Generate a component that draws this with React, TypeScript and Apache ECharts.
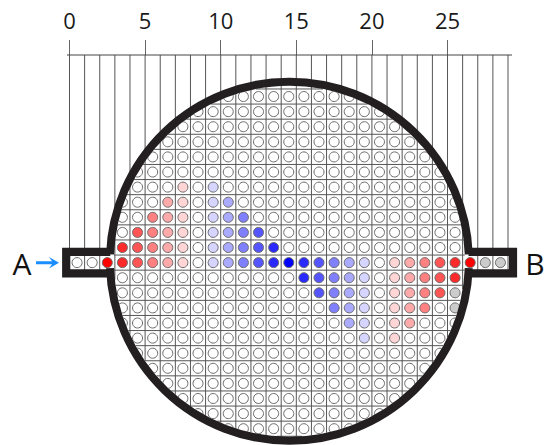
import React, { useEffect, useRef } from "react";
import * as echarts from "echarts";

// Tick labels along the top
const tickValues = [0, 5, 10, 15, 20, 25];

// Structure of the lattice
const columnIndices = [0, 1, 2, 3, 4, 5, 6, 7, 8, 9, 10, 11, 12, 13, 14, 15, 16, 17, 18, 19, 20, 21, 22, 23, 24, 25, 26, 27, 28];
const rowIndices = [-11, -10, -9, -8, -7, -6, -5, -4, -3, -2, -1, 0, 1, 2, 3, 4, 5, 6, 7, 8, 9, 10, 11];
const columnEdges = [...columnIndices, 29];
const rowEdges = [-11.5, -10.5, -9.5, -8.5, -7.5, -6.5, -5.5, -4.5, -3.5, -2.5, -1.5, -0.5, 0.5, 1.5, 2.5, 3.5, 4.5, 5.5, 6.5, 7.5, 8.5, 9.5, 10.5, 11.5];

// Cell levels as [column, level]; 9 means a grey (no-data) cell, others default to 0
const rowM5 = [[7, 1], [9, -1]];
const rowM4 = [[6, 2], [7, 1], [9, -1], [10, -2]];
const rowM3 = [[5, 3], [6, 2], [7, 1], [9, -1], [10, -2], [11, -3]];
const rowM2 = [[4, 4], [5, 3], [6, 2], [7, 1], [9, -1], [10, -2], [11, -3], [12, -4]];
const rowM1 = [[3, 5], [4, 4], [5, 3], [6, 2], [7, 1], [9, -1], [10, -2], [11, -3], [12, -4], [13, -5]];
const row0 = [[2, 6], [3, 5], [4, 4], [5, 3], [6, 2], [7, 1], [9, -1], [10, -2], [11, -3], [12, -4], [13, -5], [14, -6], [15, -5], [16, -4], [17, -3], [18, -2], [19, -1], [21, 1], [22, 2], [23, 3], [24, 4], [25, 5], [26, 6], [27, 9], [28, 9]];
const rowP1 = [[15, -5], [16, -4], [17, -3], [18, -2], [19, -1], [21, 1], [22, 2], [23, 3], [24, 4], [25, 5]];
const rowP2 = [[16, -4], [17, -3], [18, -2], [19, -1], [21, 1], [22, 2], [23, 3], [24, 4], [25, 9]];
const rowP3 = [[17, -3], [18, -2], [19, -1], [21, 1], [22, 2], [23, 3], [25, 9]];
const rowP4 = [[18, -2], [19, -1], [21, 1], [22, 2]];
const rowP5 = [[19, -1], [21, 1]];
const levelRows: [number, number[][]][] = [
  [-5, rowM5], [-4, rowM4], [-3, rowM3], [-2, rowM2], [-1, rowM1], [0, row0],
  [1, rowP1], [2, rowP2], [3, rowP3], [4, rowP4], [5, rowP5],
];

const levelColors: Record<string, string> = {
  "-6": "#0000ff", "-5": "#2a2aff", "-4": "#5555ff", "-3": "#8080ff", "-2": "#aaaaff", "-1": "#d5d5ff",
  "0": "#ffffff",
  "1": "#ffd5d5", "2": "#ffaaaa", "3": "#ff8080", "4": "#ff5555", "5": "#ff2a2a", "6": "#ff0000",
  "9": "#cccccc",
};

// Vessel geometry, in pixels
const CX = 289.4;
const CY = 261.2;
const RING_R = 179.5;
const RING_W = 8;
const INNER_R = RING_R - RING_W / 2;
const WALL = "#231f20";

function levelOf(col: number, row: number): number {
  const found = levelRows.find((r) => r[0] === row);
  if (!found) return 0;
  const cell = found[1].find((c) => c[0] === col);
  return cell ? cell[1] : 0;
}

const cellData: number[][] = [];
rowIndices.forEach((row) => {
  columnIndices.forEach((col) => {
    cellData.push([col + 0.5, row, levelOf(col, row)]);
  });
});

export default function App() {
  const ref = useRef<HTMLDivElement>(null);
  useEffect(() => {
    document.body.style.margin = "0";
    const chart = echarts.init(ref.current!, undefined, { renderer: "svg" });
    const gapA = Math.asin(6.9 / RING_R);
    const tubeTop = 251.85;
    const tubeBottom = 273.3;
    const joinDx = Math.sqrt(RING_R * RING_R - 144);
    chart.setOption({
      animation: false,
      backgroundColor: "#ffffff",
      grid: { left: 69.5, top: 55, width: 438.5, height: 388.8 },
      xAxis: {
        type: "value",
        position: "top",
        min: 0,
        max: 29,
        splitLine: { show: false },
        axisLine: { show: false, onZero: false, lineStyle: { color: "#444444", width: 1 } },
        axisTick: { show: true, inside: false, length: 15, customValues: tickValues, lineStyle: { color: "#666666", width: 1 } },
        axisLabel: {
          show: true,
          customValues: tickValues,
          margin: 24,
          fontSize: 22,
          fontFamily: "Open Sans",
          color: "#1a1a1a",
        },
      },
      yAxis: { type: "value", inverse: true, min: -13.75, max: 12, show: false },
      series: [
        {
          type: "custom",
          name: "rows",
          coordinateSystem: "cartesian2d",
          clip: false,
          z: 2,
          data: rowEdges.map((e) => [0, e]),
          renderItem: (_p: any, api: any) => {
            const y = api.coord([0, api.value(1)])[1];
            const dy = y - CY;
            if (Math.abs(dy) >= INNER_R) return null;
            const dx = Math.sqrt(INNER_R * INNER_R - dy * dy);
            return {
              type: "line",
              shape: { x1: CX - dx, y1: y, x2: CX + dx, y2: y },
              style: { stroke: "#555555", lineWidth: 1 },
            };
          },
        },
        {
          type: "custom",
          name: "columns",
          coordinateSystem: "cartesian2d",
          clip: false,
          z: 2,
          data: columnEdges.map((e) => [e, 0]),
          renderItem: (_p: any, api: any) => {
            const x = api.coord([api.value(0), 0])[0];
            const dx = x - CX;
            const end = Math.abs(dx) < INNER_R ? CY + Math.sqrt(INNER_R * INNER_R - dx * dx) : tubeBottom;
            return {
              type: "line",
              shape: { x1: x, y1: 55, x2: x, y2: end },
              style: { stroke: "#555555", lineWidth: 1 },
            };
          },
        },
        {
          type: "custom",
          name: "cells",
          coordinateSystem: "cartesian2d",
          clip: false,
          z: 3,
          data: cellData,
          renderItem: (_p: any, api: any) => {
            const [x, y] = api.coord([api.value(0), api.value(1)]);
            const row = api.value(1);
            const level = api.value(2);
            const dist = Math.hypot(x - CX, y - CY);
            const inTube = row === 0;
            if (!inTube && dist - 6 > INNER_R) return null;
            const el: any = {
              type: "circle",
              shape: { cx: x, cy: y, r: 5 },
              style: { fill: levelColors[String(level)], stroke: "#6a6a6a", lineWidth: 1 },
            };
            if (!inTube && dist + 6 > INNER_R) {
              el.clipPath = { type: "circle", shape: { cx: CX, cy: CY, r: INNER_R } };
            }
            return el;
          },
        },
      ],
      graphic: [
        { type: "line", z: 5, shape: { x1: 67, y1: 55, x2: 512, y2: 55 }, style: { stroke: "#444444", lineWidth: 1 } },
        {
          type: "arc", z: 10,
          shape: { cx: CX, cy: CY, r: RING_R, startAngle: Math.PI + gapA, endAngle: 2 * Math.PI - gapA, clockwise: true },
          style: { stroke: WALL, lineWidth: RING_W, fill: "none" },
        },
        {
          type: "arc", z: 10,
          shape: { cx: CX, cy: CY, r: RING_R, startAngle: gapA, endAngle: Math.PI - gapA, clockwise: true },
          style: { stroke: WALL, lineWidth: RING_W, fill: "none" },
        },
        {
          type: "polyline", z: 10,
          shape: { points: [[CX - joinDx, tubeTop], [66.2, tubeTop], [66.2, tubeBottom], [CX - joinDx, tubeBottom]] },
          style: { stroke: WALL, lineWidth: 8.2, fill: "none", lineJoin: "miter" },
        },
        {
          type: "polyline", z: 10,
          shape: { points: [[CX + joinDx, tubeTop], [513, tubeTop], [513, tubeBottom], [CX + joinDx, tubeBottom]] },
          style: { stroke: WALL, lineWidth: 8.2, fill: "none", lineJoin: "miter" },
        },
        {
          type: "polygon", z: 10,
          shape: { points: [[36, 261.2], [52, 261.2], [49, 257], [59, 262.7], [49, 268.4], [52, 264.2], [36, 264.2]] },
          style: { fill: "#1b8fff" },
        },
        {
          type: "text", z: 10, x: 22, y: 263,
          style: { text: "A", fontSize: 30, fontFamily: "Open Sans", fill: "#111111", textAlign: "center", textVerticalAlign: "middle" },
        },
        {
          type: "text", z: 10, x: 535, y: 263,
          style: { text: "B", fontSize: 30, fontFamily: "Open Sans", fill: "#111111", textAlign: "center", textVerticalAlign: "middle" },
        },
      ],
    });
    return () => chart.dispose();
  }, []);
  return <div ref={ref} style={{ width: 546, height: 445 }} />;
}
